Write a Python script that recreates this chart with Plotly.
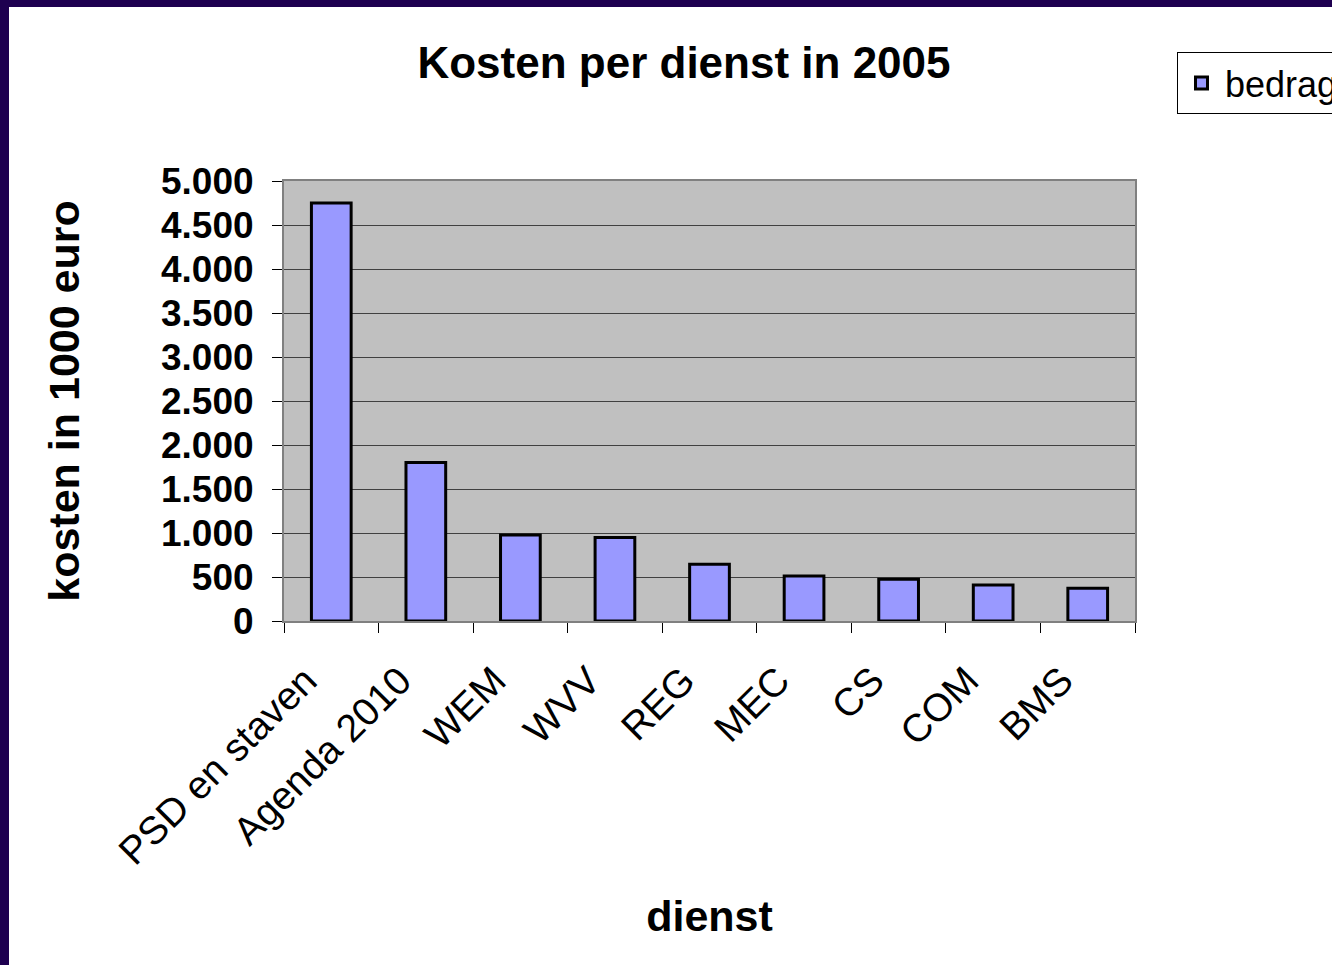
import plotly.graph_objects as go

categories = ["PSD en staven", "Agenda 2010", "WEM", "WVV", "REG", "MEC", "CS", "COM", "BMS"]
bedrag = [4750, 1800, 977, 950, 645, 510, 475, 410, 372]
y_ticks = [0, 500, 1000, 1500, 2000, 2500, 3000, 3500, 4000, 4500, 5000]

W, H = 1332, 965
L, R, T, B = 284, 1332 - 1135, 181, 965 - 621
PW, PH = W - L - R, H - T - B

def px_to_paper_x(px):
    return (px - L) / PW

def px_to_paper_y(py):
    return (H - B - py) / PH

FONT = "Liberation Sans, Arial, sans-serif"
PURPLE = "#1e0050"

fig = go.Figure()
fig.add_trace(go.Bar(
    x=categories, y=bedrag, name="bedrag",
    marker=dict(color="#9999ff", line=dict(color="black", width=3)),
    width=0.42,
    showlegend=True,
))

fig.update_layout(
    width=W, height=H,
    margin=dict(l=L, r=R, t=T, b=B, autoexpand=False),
    paper_bgcolor="white",
    plot_bgcolor="#c0c0c0",
    separators=",.",
    font=dict(family=FONT, color="black"),
    title=dict(text="<b>Kosten per dienst in 2005</b>", x=684 / W, xref="container",
               xanchor="center", y=1 - 63 / H, yanchor="middle",
               font=dict(size=44, family=FONT, color="black")),
    legend=dict(
        x=px_to_paper_x(1177), y=px_to_paper_y(52), xanchor="left", yanchor="top",
        bgcolor="white", bordercolor="black", borderwidth=1,
        itemwidth=37,
        font=dict(size=36, family=FONT, color="black"),
    ),
    xaxis=dict(
        type="category",
        tickangle=-45,
        tickfont=dict(size=39, family=FONT, color="black"),
        ticks="outside", ticklen=10, tickcolor="black", tickwidth=1,
        tickson="boundaries",
        ticklabelstandoff=19,
        ticklabelshift=-26,
        showline=True, linecolor="#808080", linewidth=2, mirror=True,
        showgrid=False,
        title=dict(text="<b>dienst</b>", font=dict(size=43, family=FONT, color="black"), standoff=29),
        automargin=False,
    ),
    yaxis=dict(
        range=[0, 5000],
        tickvals=y_ticks,
        tickformat=",d",
        tickfont=dict(size=37, family=FONT, color="black", weight="bold"),
        ticks="outside", ticklen=10, tickcolor="black", tickwidth=1,
        ticklabelstandoff=11,
        showline=True, linecolor="#808080", linewidth=2, mirror=True,
        showgrid=True, gridcolor="#404040", gridwidth=1,
        zeroline=False,
        title=dict(text="<b>kosten in 1000 euro</b>", font=dict(size=43, family=FONT, color="black"), standoff=68),
        automargin=False,
    ),
    shapes=[
        dict(type="rect", xref="paper", yref="paper",
             x0=px_to_paper_x(-5), x1=px_to_paper_x(W + 5), y0=px_to_paper_y(7), y1=px_to_paper_y(-5),
             fillcolor=PURPLE, line=dict(width=0)),
        dict(type="rect", xref="paper", yref="paper",
             x0=px_to_paper_x(-5), x1=px_to_paper_x(9), y0=px_to_paper_y(H + 5), y1=px_to_paper_y(-5),
             fillcolor=PURPLE, line=dict(width=0)),
    ],
)

fig.write_html("out.html", config={"displayModeBar": False},
               post_script="document.body.style.margin='0px';")
